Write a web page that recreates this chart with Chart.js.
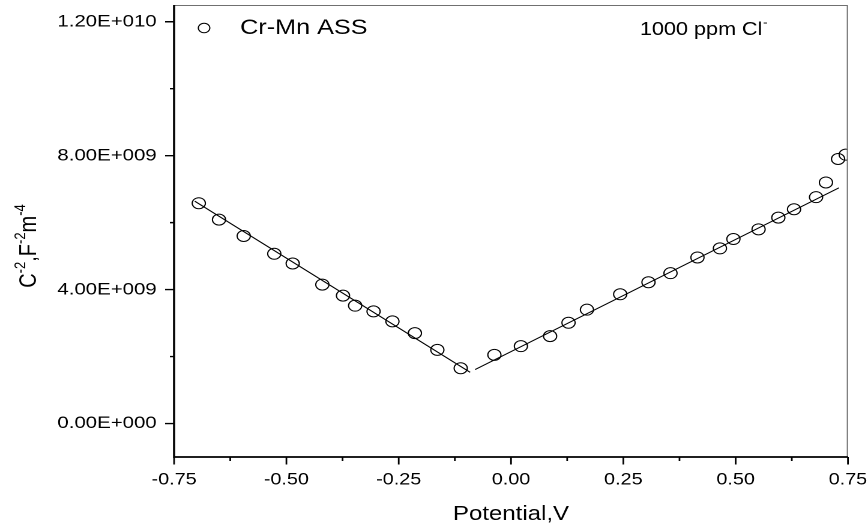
<!DOCTYPE html>
<html><head><meta charset="utf-8">
<style>html,body{margin:0;padding:0;background:#fff;overflow:hidden}
#c{display:block;width:868px;height:525px}</style>
<script src="https://cdn.jsdelivr.net/npm/chart.js@4/dist/chart.umd.min.js"></script>
</head><body>
<canvas id="c" width="723" height="525" style="width:868px;height:525px"></canvas>
<script>
const seriesLabel = 'Cr-Mn ASS';
const noteLabel = '1000 ppm Cl';
const xTitle = 'Potential,V';
const potentialV = [-0.695,-0.650,-0.595,-0.527,-0.486,-0.420,-0.374,-0.347,-0.306,-0.264,-0.214,-0.164,-0.112,
  -0.037,0.022,0.087,0.128,0.169,0.243,0.306,0.355,0.415,0.465,0.495,0.551,0.595,0.630,0.679,0.701,0.728,0.745];
const invC2 = [6.58e9,6.09e9,5.60e9,5.07e9,4.78e9,4.15e9,3.82e9,3.52e9,3.35e9,3.05e9,2.70e9,2.20e9,1.65e9,
  2.05e9,2.31e9,2.61e9,3.01e9,3.40e9,3.86e9,4.22e9,4.49e9,4.96e9,5.23e9,5.51e9,5.80e9,6.15e9,6.40e9,6.76e9,7.20e9,7.90e9,8.03e9];
const leftFitX = [-0.704, -0.091];
const leftFitY = [6.64e9, 1.53e9];
const rightFitX = [-0.080, 0.730];
const rightFitY = [1.61e9, 7.04e9];
const xTicks = [-0.75,-0.5,-0.25,0,0.25,0.5,0.75];
const xMinorTicks = [-0.625,-0.375,-0.125,0.125,0.375,0.625];
const yTicks = [0,4e9,8e9,12e9];
const yMinorTicks = [2e9,6e9,10e9];

const FONT = '"Liberation Sans", Arial, sans-serif';

function sci(v){
  if (v === 0) return '0.00E+000';
  const e = Math.floor(Math.log10(Math.abs(v)) + 1e-9);
  const m = v / Math.pow(10, e);
  return m.toFixed(2) + 'E' + (e < 0 ? '-' : '+') + String(Math.abs(e)).padStart(3, '0');
}
const pts = potentialV.map((x,i)=>({x, y: invC2[i]}));
const lf = leftFitX.map((x,i)=>({x, y: leftFitY[i]}));
const rf = rightFitX.map((x,i)=>({x, y: rightFitY[i]}));

const decor = {
  id: 'decor',
  afterDatasetsDraw(chart){
    const {ctx, chartArea:a, scales:{x, y}} = chart;
    ctx.save();
    ctx.strokeStyle = '#707070'; ctx.lineWidth = 1;
    ctx.beginPath();
    ctx.moveTo(a.left, a.top + 0.5); ctx.lineTo(a.right, a.top + 0.5);
    ctx.moveTo(a.right - 0.5, a.top); ctx.lineTo(a.right - 0.5, a.bottom);
    ctx.stroke();
    ctx.strokeStyle = '#000'; ctx.lineWidth = 1.8;
    ctx.beginPath();
    ctx.moveTo(a.left, a.top); ctx.lineTo(a.left, a.bottom); ctx.lineTo(a.right, a.bottom);
    ctx.stroke();
    ctx.lineWidth = 1.4;
    ctx.beginPath();
    yTicks.forEach(v=>{ const p = y.getPixelForValue(v); ctx.moveTo(a.left - 7.5, p); ctx.lineTo(a.left, p); });
    yMinorTicks.forEach(v=>{ const p = y.getPixelForValue(v); ctx.moveTo(a.left - 3.5, p); ctx.lineTo(a.left, p); });
    xTicks.forEach(v=>{ const p = x.getPixelForValue(v); ctx.moveTo(p, a.bottom); ctx.lineTo(p, a.bottom + 7.5); });
    xMinorTicks.forEach(v=>{ const p = x.getPixelForValue(v); ctx.moveTo(p, a.bottom); ctx.lineTo(p, a.bottom + 4); });
    ctx.stroke();
    ctx.restore();
  },
  afterDraw(chart){
    const {ctx, chartArea:a} = chart;
    ctx.save();
    ctx.fillStyle = '#000'; ctx.strokeStyle = '#000';
    // legend
    ctx.lineWidth = 1;
    ctx.beginPath(); ctx.arc(170, 28, 4.8, 0, Math.PI*2); ctx.stroke();
    ctx.font = '21px ' + FONT; ctx.textBaseline = 'middle'; ctx.textAlign = 'left';
    ctx.fillText(seriesLabel, 200, 28);
    // note
    ctx.textBaseline = 'alphabetic';
    ctx.font = '18px ' + FONT;
    ctx.fillText(noteLabel, 533, 35);
    const w = ctx.measureText(noteLabel).width;
    ctx.font = '12px ' + FONT;
    ctx.fillText('-', 533 + w + 0.5, 26);
    // x title
    ctx.font = '20px ' + FONT; ctx.textAlign = 'center';
    ctx.fillText(xTitle, (a.left + a.right) / 2, 520);
    // y title with superscripts
    const parts = [['C',0],['-2',1],[',F',0],['-2',1],['m',0],['-4',1]];
    const big = '20px ' + FONT, small = '13px ' + FONT;
    let total = 0;
    parts.forEach(([t,s])=>{ ctx.font = s ? small : big; total += ctx.measureText(t).width; });
    ctx.translate(30, 246); ctx.rotate(-Math.PI/2);
    ctx.textAlign = 'left';
    let cx = -total/2;
    parts.forEach(([t,s])=>{
      ctx.font = s ? small : big;
      ctx.fillText(t, cx, s ? -9 : 0);
      cx += ctx.measureText(t).width;
    });
    ctx.restore();
  }
};

new Chart(document.getElementById('c'), {
  data: {
    datasets: [
      { type:'line', data: lf, borderColor:'#000', borderWidth:1, pointRadius:0, fill:false, clip:0 },
      { type:'line', data: rf, borderColor:'#000', borderWidth:1, pointRadius:0, fill:false, clip:0 },
      { type:'scatter', label: seriesLabel, data: pts, pointStyle:'circle', pointRadius:5.5,
        pointBorderWidth:1, borderColor:'#000', backgroundColor:'rgba(0,0,0,0)', clip:0 }
    ]
  },
  options: {
    responsive:false, animation:false, devicePixelRatio:2,
    layout:{ autoPadding:false, padding:{ top:5, right:16.7, left:0, bottom:0 } },
    plugins:{ legend:{display:false}, tooltip:{enabled:false} },
    events: [],
    scales:{
      x:{ type:'linear', min:-0.75, max:0.75,
        grid:{display:false, drawTicks:false}, border:{display:false},
        afterBuildTicks: s => { s.ticks = xTicks.map(v=>({value:v})); },
        afterFit: s => { s.height = 68; s.paddingLeft = 0; s.paddingRight = 0; },
        ticks:{ padding:13, maxRotation:0, autoSkip:false, color:'#000',
          font:{ family: FONT, size:16.5 }, callback: v => Number(v).toFixed(2) } },
      y:{ type:'linear', min:-1.0e9, max:12.5e9,
        grid:{display:false, drawTicks:false}, border:{display:false},
        afterBuildTicks: s => { s.ticks = yTicks.map(v=>({value:v})); },
        afterFit: s => { s.width = 145; s.paddingTop = 0; s.paddingBottom = 0; },
        ticks:{ padding:14.5, autoSkip:false, color:'#000',
          font:{ family: FONT, size:17 }, callback: v => sci(v) } }
    }
  },
  plugins:[decor]
});
</script>
</body></html>
